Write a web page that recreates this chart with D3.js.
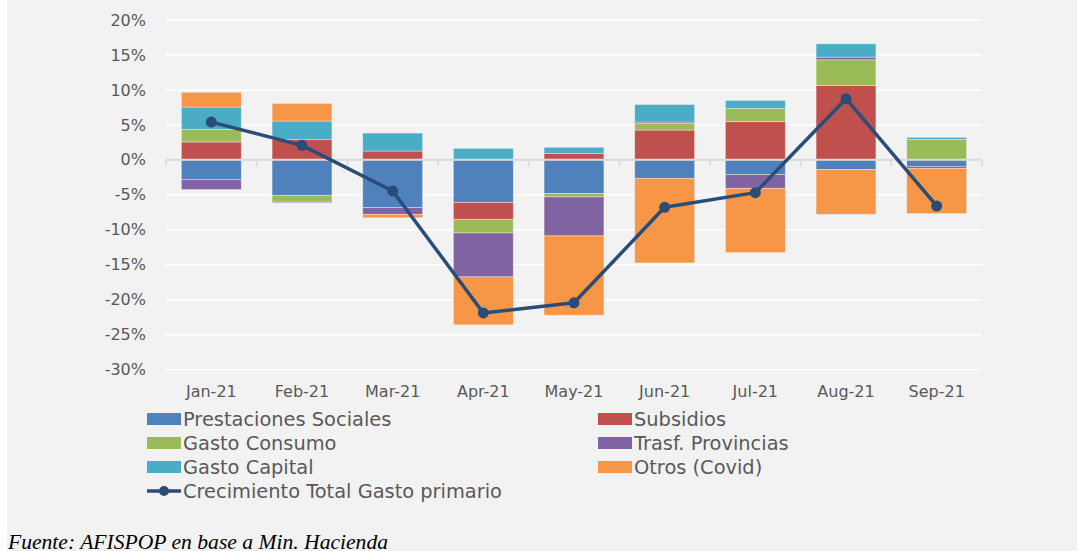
<!DOCTYPE html>
<html>
<head>
<meta charset="utf-8">
<script src="https://cdn.jsdelivr.net/npm/d3@7"></script>
<style>
  body { margin: 0; background: #ffffff; }
  svg { display: block; }
</style>
</head>
<body>
<svg id="chart" width="1077" height="551"></svg>
<script>
//--data--//
var months = ["Jan-21", "Feb-21", "Mar-21", "Apr-21", "May-21", "Jun-21", "Jul-21", "Aug-21", "Sep-21"];
var prestaciones = [-2.8, -5.07, -6.83, -6.11, -4.79, -2.64, -2.12, -1.36, -0.93];
var subsidios    = [2.55, 2.88, 1.26, -2.39, 0.93, 4.26, 5.45, 10.64, 0];
var consumo      = [1.8, -0.86, 0, -1.96, -0.52, 0.95, 1.9, 3.67, 2.93];
var provincias   = [-1.45, -0.2, -0.96, -6.28, -5.57, 0.2, -1.95, 0.38, -0.28];
var capital      = [3.2, 2.67, 2.57, 1.64, 0.86, 2.5, 1.14, 1.9, 0.28];
var otros        = [2.1, 2.52, -0.5, -6.86, -11.33, -12.1, -9.19, -6.43, -6.48];
var crecimiento  = [5.4, 2.07, -4.45, -21.9, -20.45, -6.79, -4.69, 8.74, -6.6];
var yTicks = [-30, -25, -20, -15, -10, -5, 0, 5, 10, 15, 20];

var seriesNames = ["Prestaciones Sociales", "Subsidios", "Gasto Consumo", "Trasf. Provincias", "Gasto Capital", "Otros (Covid)"];
var seriesValues = [prestaciones, subsidios, consumo, provincias, capital, otros];
var lineName = "Crecimiento Total Gasto primario";
//--data--//

var rows = months.map(function(m, i) {
    var r = {month: m};
    seriesNames.forEach(function(k, j) { r[k] = seriesValues[j][i]; });
    return r;
});

var svg = d3.select("#chart");
var uiFont = "'DejaVu Sans', sans-serif";

//--panel background--//
svg.append("rect")
    .attr("x", 7).attr("y", 0)
    .attr("width", 1070).attr("height", 551)
    .attr("fill", "#f2f2f2");

//--scales--//
var x = d3.scaleBand()
    .domain(months)
    .range([166, 982])
    .paddingInner(0.34)
    .paddingOuter(0.17);

var y = d3.scaleLinear()
    .domain([-30, 20])
    .range([369.6, 20]);

var z = d3.scaleOrdinal()
    .domain(seriesNames)
    .range(["#4f81bd", "#c0504d", "#9bbb59", "#8064a2", "#4bacc6", "#f79646"]);

var lineColor = "#2a4d77";

//--gridlines--//
svg.append("g")
    .selectAll("line")
    .data(yTicks.filter(d => d !== 0))
    .enter().append("line")
    .attr("x1", 166).attr("x2", 982)
    .attr("y1", d => y(d)).attr("y2", d => y(d))
    .attr("stroke", "#ffffff")
    .attr("stroke-width", 1.5);

//--y axis labels--//
var yAxis = svg.append("g")
    .attr("transform", "translate(166,0)")
    .call(d3.axisLeft(y).tickValues(yTicks).tickSize(0).tickPadding(20).tickFormat(d => d + "%"));
yAxis.select(".domain").remove();
yAxis.selectAll("text")
    .style("font-family", uiFont)
    .style("font-size", "16px")
    .attr("fill", "#595959");

//--bars--//
var stacked = d3.stack()
    .keys(seriesNames)
    .offset(d3.stackOffsetDiverging)(rows);

svg.append("g")
    .selectAll("g")
    .data(stacked)
    .enter().append("g")
    .attr("fill", d => z(d.key))
    .selectAll("rect")
    .data(d => d.filter(s => s[1] !== s[0]))
    .enter().append("rect")
    .attr("x", d => x(d.data.month))
    .attr("width", x.bandwidth())
    .attr("y", d => y(Math.max(d[0], d[1])))
    .attr("height", d => Math.abs(y(d[0]) - y(d[1])))
    .attr("stroke", "#f2f2f2")
    .attr("stroke-opacity", 0.6)
    .attr("stroke-width", 0.7);

//--zero axis--//
var xAxis = svg.append("g")
    .attr("transform", "translate(0," + y(0) + ")");
xAxis.append("line")
    .attr("x1", 166).attr("x2", 982)
    .attr("stroke", "#d9d9d9").attr("stroke-width", 2);
var edges = months.map(m => x(m) - x.step() * x.paddingInner() / 2);
edges.push(982);
edges[0] = 166;
xAxis.selectAll("line.tick")
    .data(edges)
    .enter().append("line")
    .attr("class", "tick")
    .attr("x1", d => d).attr("x2", d => d)
    .attr("y1", 0).attr("y2", 6)
    .attr("stroke", "#d9d9d9").attr("stroke-width", 1.5);

//--month labels--//
svg.append("g")
    .attr("transform", "translate(0,369.6)")
    .call(d3.axisBottom(x).tickSize(0).tickPadding(16))
    .call(g => g.select(".domain").remove())
    .selectAll("text")
    .style("font-family", uiFont)
    .style("font-size", "16px")
    .attr("fill", "#595959");

//--line--//
var cx = (d, i) => x(months[i]) + x.bandwidth() / 2;
var line = d3.line()
    .x(cx)
    .y(d => y(d));

svg.append("path")
    .datum(crecimiento)
    .attr("d", line)
    .attr("fill", "none")
    .attr("stroke", lineColor)
    .attr("stroke-width", 3.5)
    .attr("stroke-linejoin", "round");

svg.append("g")
    .selectAll("circle")
    .data(crecimiento)
    .enter().append("circle")
    .attr("cx", cx)
    .attr("cy", d => y(d))
    .attr("r", 5.5)
    .attr("fill", lineColor);

//--legend--//
var legendItems = seriesNames.map((n, i) => ({name: n, col: i % 2, row: Math.floor(i / 2)}));
legendItems.push({name: lineName, col: 0, row: 3, line: true});

var lg = svg.append("g")
    .selectAll("g")
    .data(legendItems)
    .enter().append("g")
    .attr("transform", d => "translate(" + (d.col ? 598 : 147) + "," + (419 + d.row * 24) + ")");

lg.filter(d => !d.line).append("rect")
    .attr("x", 0).attr("y", -6)
    .attr("width", 34).attr("height", 12)
    .attr("fill", d => z(d.name));

lg.filter(d => d.line).append("line")
    .attr("x1", 0).attr("x2", 34)
    .attr("stroke", lineColor).attr("stroke-width", 3.5);
lg.filter(d => d.line).append("circle")
    .attr("cx", 17).attr("r", 5)
    .attr("fill", lineColor);

lg.append("text")
    .attr("x", 36)
    .attr("y", 7)
    .style("font-family", uiFont)
    .style("font-size", "19.4px")
    .attr("fill", "#595959")
    .text(d => d.name);

//--source--//
svg.append("text")
    .attr("x", 8)
    .attr("y", 549)
    .style("font-family", "'Liberation Serif', 'Times New Roman', serif")
    .style("font-style", "italic")
    .style("font-size", "21.6px")
    .attr("fill", "#000000")
    .text("Fuente: AFISPOP en base a Min. Hacienda");
</script>
</body>
</html>
